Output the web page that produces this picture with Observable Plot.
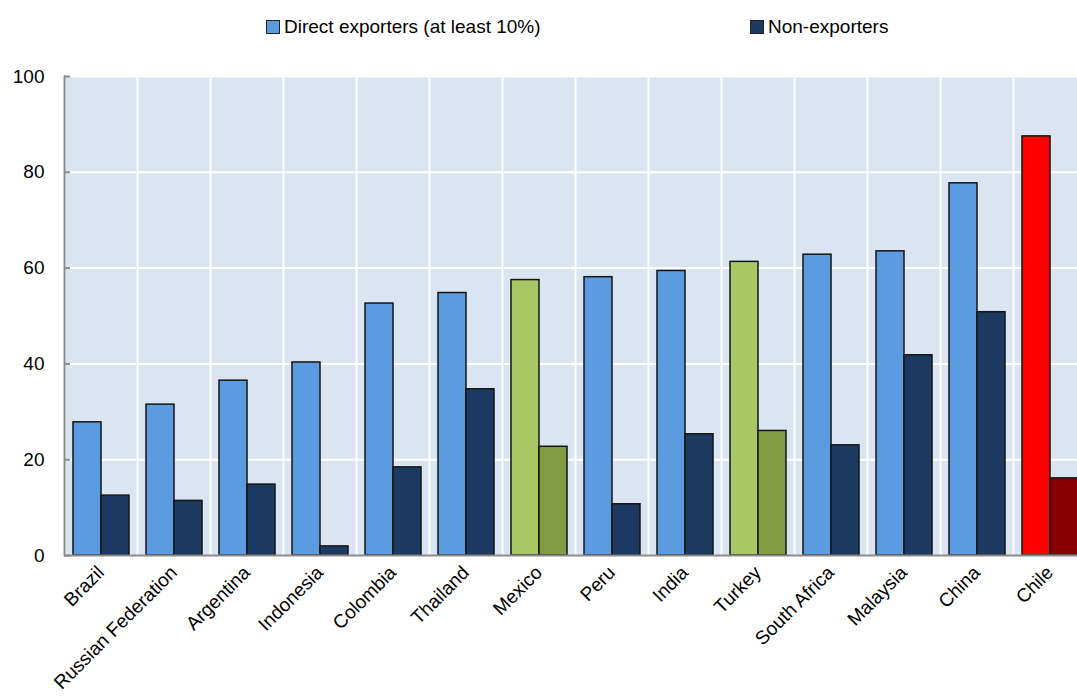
<!DOCTYPE html>
<html>
<head>
<meta charset="utf-8">
<script src="https://cdn.jsdelivr.net/npm/d3@7"></script>
<script src="https://cdn.jsdelivr.net/npm/@observablehq/plot@0.6"></script>
<style>
  html, body { margin: 0; padding: 0; background: white; overflow: hidden; }
  body { width: 1077px; height: 700px; position: relative; font-family: "Liberation Sans", Arial, sans-serif; }
  #legend { position: relative; height: 50px; width: 1077px; }
  .item { position: absolute; top: 16px; font-size: 19px; color: #000; display: flex; align-items: center; white-space: nowrap; }
  .swatch { width: 12px; height: 12px; border: 1px solid #222; margin-right: 4px; }
  #chart { width: 1077px; overflow: hidden; }
  #chart svg { display: block; max-width: none !important; }
</style>
</head>
<body>
<div id="legend"></div>
<div id="chart"></div>
<script>
// ---- data ----
const countries = ["Brazil", "Russian Federation", "Argentina", "Indonesia", "Colombia", "Thailand", "Mexico", "Peru", "India", "Turkey", "South Africa", "Malaysia", "China", "Chile"];
const directExporters = [27.8, 31.5, 36.5, 40.3, 52.6, 54.8, 57.5, 58.1, 59.4, 61.3, 62.8, 63.5, 77.7, 87.5];
const nonExporters = [12.5, 11.4, 14.8, 1.9, 18.4, 34.7, 22.7, 10.7, 25.3, 26.0, 23.0, 41.8, 50.8, 16.1];
const seriesNames = ["Direct exporters (at least 10%)", "Non-exporters"];
const greenCountries = ["Mexico", "Turkey"];
const redCountries = ["Chile"];
const yTicks = [0, 20, 40, 60, 80, 100];

// ---- styles ----
const palette = {
  base: ["#5b9be0", "#1d3a63"],
  green: ["#a9c764", "#839c41"],
  red: ["#ff0000", "#870000"]
};
const legendLeft = [266, 750];

function colorFor(country, i) {
  if (redCountries.includes(country)) return palette.red[i];
  if (greenCountries.includes(country)) return palette.green[i];
  return palette.base[i];
}

const rows = [];
countries.forEach((c, k) => {
  rows.push({country: c, series: seriesNames[0], value: directExporters[k], fill: colorFor(c, 0)});
  rows.push({country: c, series: seriesNames[1], value: nonExporters[k], fill: colorFor(c, 1)});
});

// legend
const legend = document.getElementById("legend");
seriesNames.forEach((s, i) => {
  const item = document.createElement("div");
  item.className = "item";
  item.style.left = legendLeft[i] + "px";
  const sw = document.createElement("span");
  sw.className = "swatch";
  sw.style.background = palette.base[i];
  const t = document.createElement("span");
  t.textContent = s;
  item.append(sw, t);
  legend.append(item);
});

const chart = Plot.plot({
  width: 1090,
  height: 650,
  marginLeft: 64,
  marginRight: 4,
  marginTop: 26,
  marginBottom: 145,
  style: {fontSize: "19px", fontFamily: "Liberation Sans, Arial, sans-serif", color: "#000", background: "white", overflow: "visible", maxWidth: "none"},
  fx: {domain: countries, paddingInner: 0, paddingOuter: 0, label: null, axis: null},
  x: {domain: seriesNames, paddingInner: 0, paddingOuter: 0.3, axis: null},
  y: {domain: [0, 100], label: null, axis: null},
  color: {type: "identity"},
  marks: [
    Plot.frame({fill: "#dbe5f1", stroke: null}),
    Plot.gridY(yTicks.slice(1), {stroke: "white", strokeOpacity: 1, strokeWidth: 2}),
    Plot.frame({anchor: "left", stroke: "white", strokeWidth: 2}),
    Plot.barY(rows, {fx: "country", x: "series", y: "value", fill: "fill", stroke: "#151515", strokeWidth: 1.5}),
    Plot.ruleY([0], {stroke: "#8c8c8c", strokeWidth: 2}),
    Plot.frame({anchor: "left", stroke: "#8c8c8c", strokeWidth: 2, facetAnchor: "left"}),
    Plot.axisY(yTicks, {anchor: "left", tickSize: -6, tickPadding: 26, stroke: "#8c8c8c", strokeWidth: 2, label: null, fill: "#000"}),
    Plot.axisFx({anchor: "bottom", tickRotate: -45, tickSize: 0, tickPadding: 14, fontSize: 19, label: null, fill: "#000"})
  ]
});
document.getElementById("chart").append(chart);
</script>
</body>
</html>
